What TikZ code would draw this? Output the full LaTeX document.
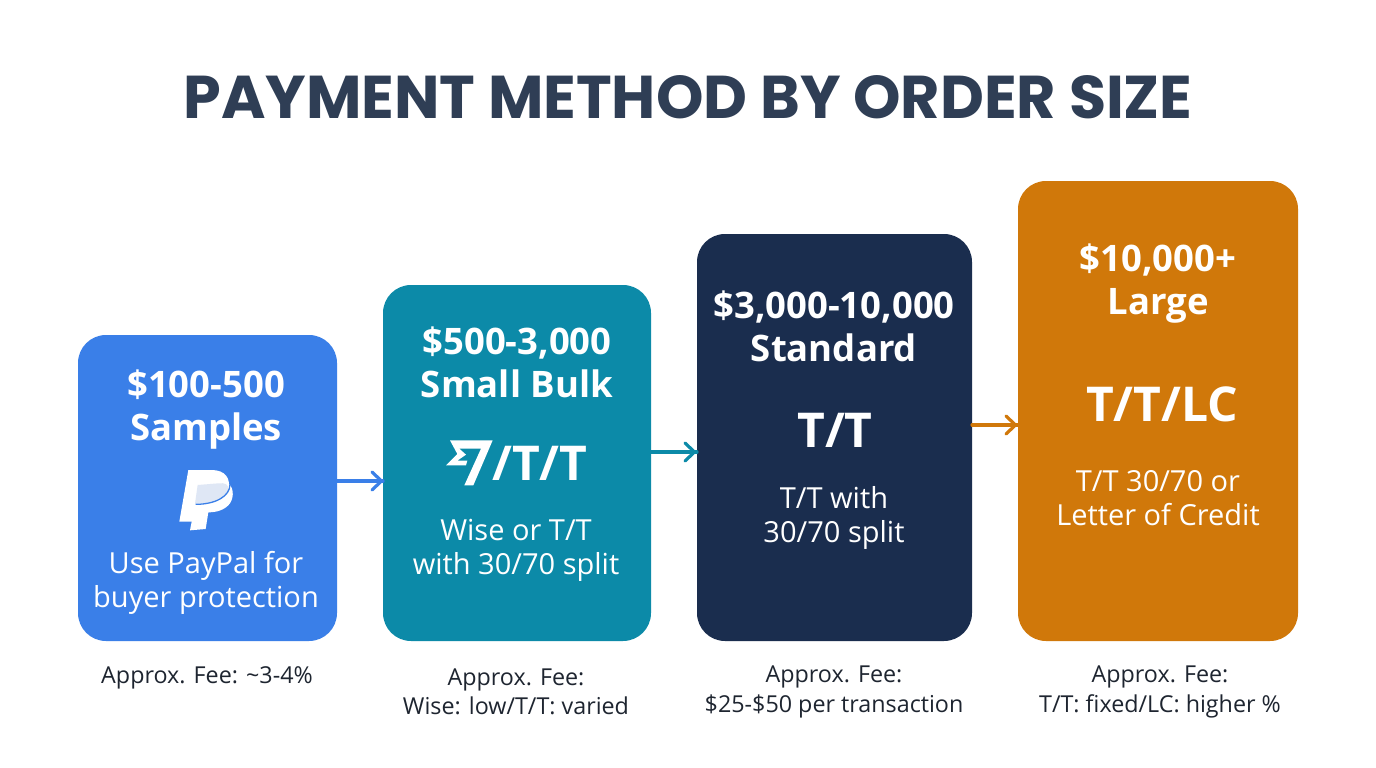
\documentclass[tikz,border=0pt]{standalone}
\usepackage{fontspec}
\setmainfont{Open Sans}
\newfontfamily\titlefont{Poppins}
\definecolor{cblue}{HTML}{3A7FE8}
\definecolor{cteal}{HTML}{0C8AA8}
\definecolor{cnavy}{HTML}{1A2D4E}
\definecolor{corange}{HTML}{D0780A}
\definecolor{ctitle}{HTML}{2F3E55}
\definecolor{cink}{HTML}{1E2530}
\definecolor{cpale}{HTML}{DFE7F5}
\tikzset{
  card/.style={inner sep=0pt,outer sep=0pt,rounded corners=28pt},
  head/.style={text=white,align=center,font=\fontsize{36.5}{43}\selectfont\bfseries,inner sep=0pt},
  method/.style={text=white,align=center,font=\fontsize{48}{50}\selectfont\bfseries,inner sep=0pt},
  desc/.style={text=white,align=center,font=\fontsize{29}{34}\selectfont,inner sep=0pt},
  fee/.style={text=cink,align=center,font=\fontsize{23.3}{29.5}\selectfont,inner sep=0pt},
  link/.style={line width=3.2pt,line cap=round},
  tip/.style={line width=3.2pt,line cap=round,line join=round}
}
\begin{document}
\begin{tikzpicture}[x=1pt,y=-1pt]
\useasboundingbox (0,0) rectangle (1376,768);
\fill[white] (0,0) rectangle (1376,768);
\node[inner sep=0pt,text=ctitle,font=\fontsize{60.4}{60}\selectfont\titlefont\bfseries] (title) at (688,97) {PAYMENT METHOD BY ORDER SIZE};
% cards
\fill[card,cblue] (78,335) rectangle (337,641);
\fill[card,cteal] (383,285) rectangle (651,641);
\fill[card,cnavy] (697,234) rectangle (972,641);
\fill[card,corange] (1018,181) rectangle (1298,641);
\coordinate (c1l) at (78,488); \coordinate (c1r) at (337,488);
\coordinate (c2l) at (383,463); \coordinate (c2r) at (651,463);
\coordinate (c3l) at (697,437); \coordinate (c3r) at (972,437);
\coordinate (c4l) at (1018,411);
% arrows
\coordinate (a1) at (360,481); \coordinate (a2) at (670,452); \coordinate (a3) at (990,425);
\draw[link,cblue] (c1r |- a1) -- (c2l |- a1);
\draw[tip,cblue] (372,472) -- (381.5,481) -- (372,490);
\draw[link,cteal] (c2r |- a2) -- (c3l |- a2);
\draw[tip,cteal] (685,443) -- (694.5,452) -- (685,461);
\draw[link,corange] (c3r |- a3) -- (c4l |- a3);
\draw[tip,corange] (1006,416) -- (1015.5,425) -- (1006,434);
% card 1
\node[head] (h1) at (206,409.5) {\$100-500\\Samples};
\begin{scope}[shift={(175,465)},scale=1/3]
 \fill[white] (150,50) .. controls (178,60) and (178,95) .. (165,115) .. controls (150,135) and (125,142) .. (100,142) -- (92,192) -- (45,196) -- (60,118) -- cycle;
 \fill[white] (40,15) -- (110,15) .. controls (150,15) and (168,40) .. (160,72) .. controls (150,105) and (115,115) .. (75,115) -- (68,115) -- (60,170) -- (13,170) -- cycle;
 \fill[cpale] (68,60) -- (130,55) .. controls (150,52) and (162,60) .. (160,72) .. controls (150,105) and (115,115) .. (60,116) -- cycle;
 \draw[cblue,line width=1.3pt] (165,58) .. controls (165,95) and (120,118) .. (62,118);
\end{scope}
\node[desc] (d1) at (206,583) {Use PayPal for\\buyer protection};
\node[fee] (f1) at (207,678) {Approx. Fee: \textasciitilde3-4\%};
% card 2
\node[head] (h2) at (517,362) {\$500-3,000\\Small Bulk};
\begin{scope}[shift={(440,432)},scale=1/3]
 \fill[white] (30,25) -- (158,25) -- (100,160) -- (73,160) -- (123,50) -- (58,50) -- (78,68) -- (52,86) -- (82,86) -- (78,100) -- (18,100) -- (52,66) -- cycle;
\end{scope}
\node[method] (m2) at (540,463) {/T/T};
\node[desc] (d2) at (516,550) {Wise or T/T\\with 30/70 split};
\node[fee] (f2) at (516,692) {Approx. Fee:\\Wise: low/T/T: varied};
% card 3
\node[head] (h3) at (834,326.5) {\$3,000-10,000\\Standard};
\node[method] (m3) at (835,430) {T/T};
\node[desc] (d3) at (834,518) {T/T with\\30/70 split};
\node[fee] (f3) at (834,692) {Approx. Fee:\\\$25-\$50 per transaction};
% card 4
\node[head] (h4) at (1158,283.5) {\$10,000+\\Large};
\node[method] (m4) at (1162,404) {T/T/LC};
\node[desc] (d4) at (1158,498) {T/T 30/70 or\\Letter of Credit};
\node[fee] (f4) at (1160,692) {Approx. Fee:\\T/T: fixed/LC: higher \%};
\end{tikzpicture}
\end{document}
